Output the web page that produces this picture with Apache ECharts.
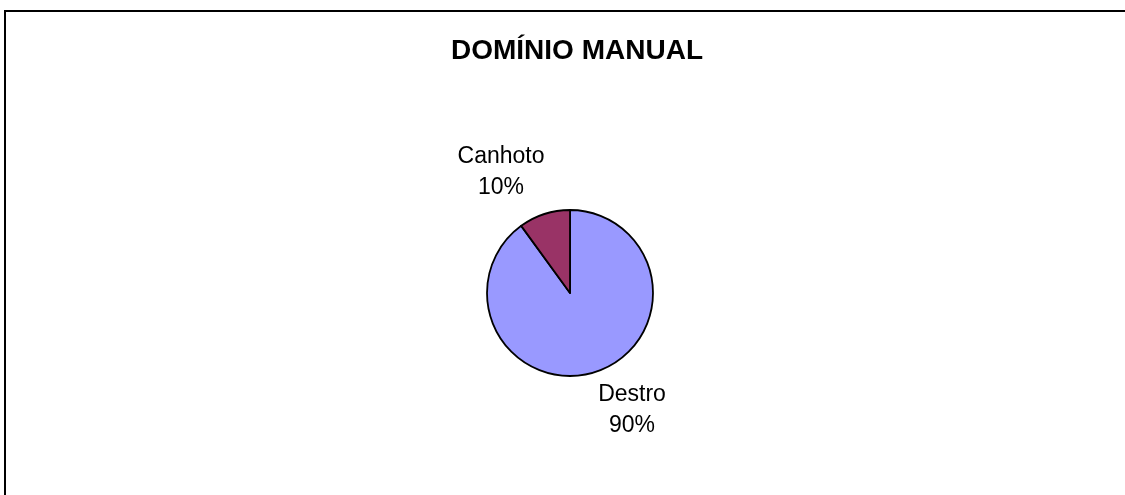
<!DOCTYPE html>
<html>
<head>
<meta charset="utf-8">
<script src="https://cdn.jsdelivr.net/npm/echarts@6/dist/echarts.min.js"></script>
<style>
html,body{margin:0;padding:0;background:#fff;}
#chart{width:1125px;height:495px;}
</style>
</head>
<body>
<div id="chart"></div>
<script>
const titleText = 'DOMÍNIO MANUAL';
const categories = ['Destro', 'Canhoto'];
const values = [90, 10];
const colors = ['#9999FF', '#993366'];
const labelPos = [[632, 410], [501, 172]];

const chart = echarts.init(document.getElementById('chart'));
chart.setOption({
  animation: false,
  backgroundColor: '#ffffff',
  title: {
    text: titleText,
    left: 572, top: 32, textAlign: 'center',
    textStyle: { fontFamily: 'Liberation Sans, Arial, sans-serif', fontSize: 28, fontWeight: 'bold', color: '#000' }
  },
  graphic: [{
    type: 'rect', silent: true,
    shape: { x: 5, y: 11, width: 1300, height: 700 },
    style: { fill: 'none', stroke: '#000', lineWidth: 2 }
  }],
  series: [{
    type: 'pie',
    center: [570, 293],
    radius: 83,
    startAngle: 90,
    clockwise: true,
    data: categories.map((c, i) => ({ name: c, value: values[i], itemStyle: { color: colors[i] } })),
    itemStyle: { borderColor: '#000', borderWidth: 1.8 },
    label: {
      show: true, position: 'outside',
      formatter: '{b}\n{d}%',
      fontFamily: 'Liberation Sans, Arial, sans-serif',
      fontSize: 23, lineHeight: 31, color: '#000', align: 'center'
    },
    labelLine: { show: false },
    labelLayout: function (p) {
      const pos = labelPos[p.dataIndex];
      return { x: pos[0], y: pos[1], align: 'center', verticalAlign: 'middle' };
    },
    emphasis: { disabled: true }
  }]
});
</script>
</body>
</html>
